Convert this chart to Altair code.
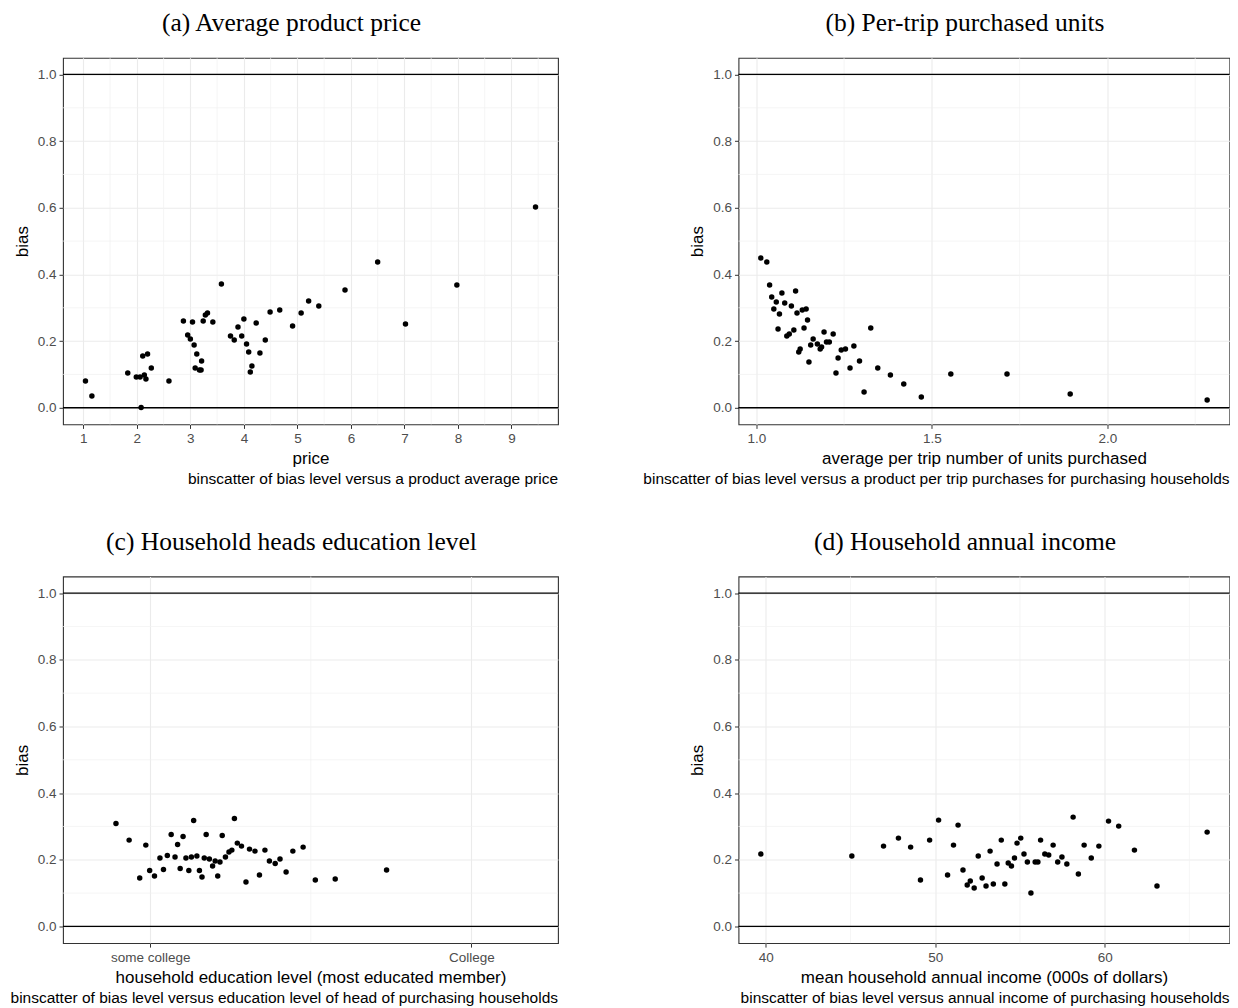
import altair as alt
import pandas as pd

# ---------------- data ----------------
# (a) average product price
price = [1.04, 1.16, 1.83, 1.99, 2.06, 2.14, 2.17, 2.11, 2.20, 2.27, 2.08, 2.60,
         2.87, 3.04, 2.95, 3.00, 3.07, 3.12, 3.09, 3.17, 3.20, 3.21, 3.24, 3.28,
         3.32, 3.42, 3.58, 3.75, 3.82, 3.89, 3.96, 4.00, 4.05, 4.09, 4.15, 4.12,
         4.23, 4.30, 4.40, 4.49, 4.67, 4.91, 5.07, 5.21, 5.40, 5.89, 6.50, 7.02,
         7.98, 9.45]
bias_a = [0.080, 0.035, 0.104, 0.092, 0.092, 0.098, 0.086, 0.155, 0.161, 0.119, 0.001, 0.080,
          0.260, 0.257, 0.218, 0.206, 0.188, 0.161, 0.119, 0.113, 0.113, 0.140, 0.260, 0.278,
          0.284, 0.257, 0.371, 0.215, 0.203, 0.242, 0.215, 0.266, 0.191, 0.167, 0.125, 0.107,
          0.254, 0.164, 0.203, 0.287, 0.293, 0.245, 0.284, 0.320, 0.305, 0.353, 0.437, 0.251,
          0.368, 0.602]

# (b) per-trip purchased units
units = [1.013, 1.030, 1.038, 1.044, 1.057, 1.050, 1.073, 1.081, 1.112, 1.066, 1.100, 1.116,
         1.131, 1.142, 1.062, 1.146, 1.087, 1.094, 1.107, 1.136, 1.121, 1.125, 1.150, 1.155,
         1.162, 1.174, 1.182, 1.186, 1.193, 1.200, 1.208, 1.219, 1.227, 1.233, 1.242, 1.254,
         1.267, 1.278, 1.294, 1.307, 1.326, 1.346, 1.382, 1.420, 1.470, 1.554, 1.714, 1.894,
         2.284]
bias_b = [0.449, 0.437, 0.368, 0.332, 0.317, 0.296, 0.344, 0.314, 0.350, 0.281, 0.305, 0.284,
          0.293, 0.296, 0.236, 0.263, 0.215, 0.221, 0.233, 0.239, 0.167, 0.176, 0.137, 0.188,
          0.206, 0.191, 0.176, 0.182, 0.227, 0.197, 0.197, 0.221, 0.104, 0.149, 0.173, 0.176,
          0.119, 0.185, 0.140, 0.047, 0.239, 0.119, 0.098, 0.071, 0.032, 0.101, 0.101, 0.041,
          0.023]

# (c) household heads education level (4 = some college, 5 = College)
educ = [3.893, 3.934, 3.967, 3.986, 3.998, 4.013, 4.030, 4.041, 4.053, 4.065, 4.077, 4.085,
        4.093, 4.102, 4.111, 4.120, 4.128, 4.135, 4.145, 4.153, 4.161, 4.168, 4.174, 4.184,
        4.194, 4.202, 4.210, 4.217, 4.224, 4.234, 4.245, 4.254, 4.262, 4.271, 4.284, 4.298,
        4.309, 4.326, 4.340, 4.357, 4.371, 4.389, 4.404, 4.423, 4.444, 4.476, 4.514, 4.576,
        4.736]
bias_c = [0.309, 0.259, 0.145, 0.244, 0.168, 0.151, 0.205, 0.171, 0.213, 0.276, 0.208, 0.246,
          0.174, 0.270, 0.205, 0.168, 0.208, 0.318, 0.211, 0.168, 0.148, 0.205, 0.276, 0.202,
          0.181, 0.196, 0.151, 0.193, 0.273, 0.208, 0.223, 0.229, 0.324, 0.250, 0.241, 0.133,
          0.232, 0.226, 0.154, 0.229, 0.196, 0.189, 0.202, 0.163, 0.226, 0.238, 0.139, 0.142,
          0.169]

# (d) household annual income (000s of dollars)
income = [39.71, 45.08, 46.95, 47.83, 48.55, 49.13, 49.67, 50.20, 50.73, 51.08, 51.35, 51.64,
          51.89, 52.07, 52.30, 52.54, 52.77, 53.00, 53.24, 53.43, 53.65, 53.90, 54.11, 54.31,
          54.50, 54.68, 54.83, 55.05, 55.24, 55.44, 55.65, 55.90, 56.06, 56.22, 56.47, 56.70,
          56.96, 57.23, 57.48, 57.77, 58.14, 58.45, 58.79, 59.21, 59.66, 60.23, 60.83, 61.76,
          63.09, 66.05]
bias_d = [0.217, 0.211, 0.241, 0.265, 0.238, 0.139, 0.259, 0.319, 0.154, 0.244, 0.304, 0.169,
          0.124, 0.136, 0.115, 0.211, 0.145, 0.121, 0.226, 0.127, 0.187, 0.259, 0.127, 0.190,
          0.181, 0.205, 0.250, 0.265, 0.217, 0.193, 0.100, 0.193, 0.193, 0.259, 0.217, 0.214,
          0.244, 0.193, 0.208, 0.187, 0.328, 0.157, 0.244, 0.205, 0.241, 0.316, 0.301, 0.229,
          0.121, 0.283]

ref_lines = [0.0, 1.0]
y_major = [0.0, 0.2, 0.4, 0.6, 0.8, 1.0]
y_minor = [0.1, 0.3, 0.5, 0.7, 0.9]

titles = ["(a) Average product price", "(b) Per-trip purchased units",
          "(c) Household heads education level", "(d) Household annual income"]
xtitles = ["price", "average per trip number of units purchased",
           "household education level (most educated member)",
           "mean household annual income (000s of dollars)"]
captions = ["binscatter of bias level versus a product average price",
            "binscatter of bias level versus a product per trip purchases for purchasing households",
            "binscatter of bias level versus education level of head of purchasing households",
            "binscatter of bias level versus annual income of purchasing households"]

# ---------------- styling ----------------
SANS = "Liberation Sans"
SERIF = "Liberation Serif"
PW_LEFT, PW_RIGHT, PH = 495, 491, 366.6
Y_DOMAIN = [-0.05, 1.05]


def panel(xs, ys, pw, xdomain, xmajor, xminor, xfmt, title, xtitle, caption, label_expr=None):
    df = pd.DataFrame({"x": xs, "bias": ys})
    xscale = alt.Scale(domain=xdomain, nice=False, zero=False)
    yscale = alt.Scale(domain=Y_DOMAIN, nice=False, zero=False)

    xaxis_kw = dict(values=xmajor, format=xfmt, title=xtitle, grid=True,
                    gridColor="#EBEBEB", gridWidth=1.1, domain=False,
                    tickColor="#333333", tickSize=4, tickWidth=1,
                    labelColor="#4D4D4D", labelFont=SANS, labelFontSize=13.5,
                    labelPadding=3, titleFont=SANS, titleFontSize=17,
                    titleFontWeight="normal", titleColor="#000000", titlePadding=6)
    if label_expr:
        xaxis_kw["labelExpr"] = label_expr
    xaxis = alt.Axis(**xaxis_kw)
    yaxis = alt.Axis(values=y_major, format=".1f", title="bias", grid=True,
                     gridColor="#EBEBEB", gridWidth=1.1, domain=False,
                     tickColor="#333333", tickSize=4, tickWidth=1,
                     labelColor="#4D4D4D", labelFont=SANS, labelFontSize=13.5,
                     labelPadding=3, titleFont=SANS, titleFontSize=17,
                     titleFontWeight="normal", titleColor="#000000", titlePadding=6)

    vminor = alt.Chart(pd.DataFrame({"x": xminor})).mark_rule(
        color="#F0F0F0", strokeWidth=0.7
    ).encode(x=alt.X("x:Q", scale=xscale, axis=xaxis))
    hminor = alt.Chart(pd.DataFrame({"bias": y_minor})).mark_rule(
        color="#F0F0F0", strokeWidth=0.7
    ).encode(y=alt.Y("bias:Q", scale=yscale, axis=yaxis))
    pts = alt.Chart(df).mark_circle(size=30, color="#000000", opacity=1).encode(
        x=alt.X("x:Q", scale=xscale, axis=xaxis),
        y=alt.Y("bias:Q", scale=yscale, axis=yaxis),
    )
    hl = alt.Chart(pd.DataFrame({"bias": ref_lines})).mark_rule(
        color="#000000", strokeWidth=1.3
    ).encode(y=alt.Y("bias:Q", scale=yscale, axis=yaxis))
    cap = alt.Chart(pd.DataFrame({"c": [caption]})).mark_text(
        align="right", baseline="alphabetic", font=SANS, fontSize=15.5, color="#000000"
    ).encode(x=alt.value(pw), y=alt.value(PH + 60), text="c:N")

    return alt.layer(vminor, hminor, pts, hl, cap).properties(
        width=pw, height=PH,
        title=alt.TitleParams(title, font=SERIF, fontSize=25.5, fontWeight="normal",
                              color="#000000", anchor="middle", frame="group",
                              baseline="alphabetic", offset=1, dx=-19),
    )


pa = panel(price, bias_a, PW_LEFT, [0.62, 9.87], [1, 2, 3, 4, 5, 6, 7, 8, 9],
           [1.5, 2.5, 3.5, 4.5, 5.5, 6.5, 7.5, 8.5, 9.5], "d",
           titles[0], xtitles[0], captions[0])
pb = panel(units, bias_b, PW_RIGHT, [0.9494, 2.3476], [1.0, 1.5, 2.0], [1.25, 1.75, 2.25],
           ".1f", titles[1], xtitles[1], captions[1])
pc = panel(educ, bias_c, PW_LEFT, [3.728, 5.270], [4, 5], [4.5], "d",
           titles[2], xtitles[2], captions[2],
           label_expr="datum.value == 4 ? 'some college' : 'College'")
pd_ = panel(income, bias_d, PW_RIGHT, [38.39, 67.37], [40, 50, 60], [45, 55, 65], "d",
            titles[3], xtitles[3], captions[3])

chart = alt.concat(pa, pb, pc, pd_, columns=2, spacing={"row": 151.7, "column": 180.5},
                   bounds="flush").configure_view(
    stroke="#333333", strokeWidth=1.1
).properties(background="white",
             padding={"left": 1, "top": 1.8, "right": -1, "bottom": 0})

chart.save("out.html", embed_options={"renderer": "svg", "actions": False})
